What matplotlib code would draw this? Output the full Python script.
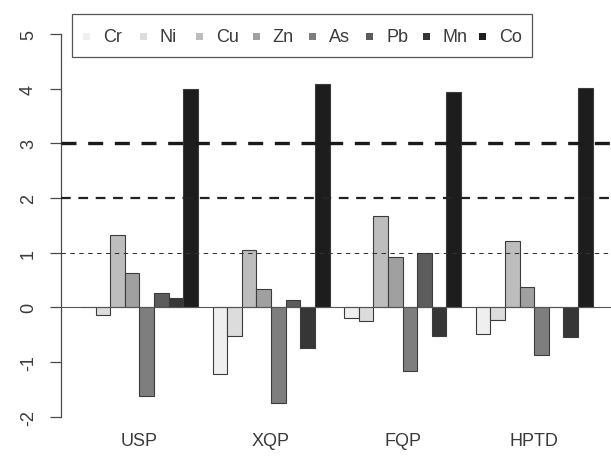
import matplotlib
matplotlib.use("Agg")
import matplotlib.pyplot as plt
import numpy as np
from matplotlib.patches import Rectangle

plt.rcParams['font.family'] = ['Liberation Sans', 'DejaVu Sans']
plt.rcParams['lines.scale_dashes'] = False

sites = ["USP", "XQP", "FQP", "HPTD"]
elements = ["Cr", "Ni", "Cu", "Zn", "As", "Pb", "Mn", "Co"]
values = {
    "USP":  [0.00, -0.14, 1.33, 0.63, -1.62, 0.27, 0.17, 3.99],
    "XQP":  [-1.22, -0.52, 1.04, 0.33, -1.75, 0.13, -0.74, 4.08],
    "FQP":  [-0.20, -0.25, 1.67, 0.93, -1.17, 1.00, -0.52, 3.94],
    "HPTD": [-0.48, -0.23, 1.22, 0.38, -0.87, 0.00, -0.54, 4.02],
}
colors = ["#efefef", "#dcdcdc", "#bdbdbd", "#a0a0a0", "#7e7e7e", "#5c5c5c", "#363636", "#1d1d1d"]
yticks = [-2, -1, 0, 1, 2, 3, 4, 5]

W, H = 611, 460
fig = plt.figure(figsize=(W / 100, H / 100), dpi=100)
ax = fig.add_axes([60.5 / W, 27 / H, (W - 60.5) / W, (433 - 19.7) / H])

txt_color = "#3a3a3a"
ax_color = "#4a4a4a"

n = len(elements)
for g, site in enumerate(sites):
    for i, v in enumerate(values[site]):
        left = g * (n + 1) + 1 + i
        ax.bar(left, v, width=1.0, align="edge", color=colors[i],
               edgecolor="#3c3c3c", linewidth=0.8, zorder=2)

ax.set_xlim(-0.4, -0.4 + (W - 60.5) / 14.62)
ax.set_ylim(-2.28, 5.28)

# reference lines
ax.axhline(0, color="#555555", lw=0.8, zorder=3)
ax.axhline(1, color="#333333", lw=0.75, linestyle=(0, (3.2, 3.2)), zorder=3)
ax.axhline(2, color="#222222", lw=1.6, linestyle=(0, (7.0, 5.5)), zorder=3)
ax.axhline(3, color="#1a1a1a", lw=2.4, linestyle=(0, (10.8, 8.4)), zorder=3)

for s in ["top", "right", "bottom"]:
    ax.spines[s].set_visible(False)
ax.spines["left"].set_bounds(-2, 5)
ax.spines["left"].set_color(ax_color)
ax.spines["left"].set_linewidth(0.9)

ax.set_yticks(yticks)
ax.set_yticklabels([str(t) for t in yticks], rotation=90, va="center")
ax.tick_params(axis="y", length=8, width=0.9, color=ax_color, pad=9,
               labelsize=13, labelcolor=txt_color)

centers = [g * (n + 1) + 1 + n / 2 for g in range(len(sites))]
ax.set_xticks(centers)
ax.set_xticklabels(sites)
ax.tick_params(axis="x", length=0, pad=0, labelsize=13, labelcolor=txt_color)

# legend (horizontal, R style)
bx0, by0, bx1, by1 = 72, 14.5, 532, 58
fig.patches.append(Rectangle((bx0 / W, 1 - by1 / H), (bx1 - bx0) / W, (by1 - by0) / H,
                             transform=fig.transFigure, fill=False,
                             edgecolor="#555555", linewidth=0.9))
step = 56.6
sq = 7
cy = 37
for i, name in enumerate(elements):
    sx = 86.5 + i * step
    fig.patches.append(Rectangle(((sx - sq / 2) / W, 1 - (cy + sq / 2) / H), sq / W, sq / H,
                                 transform=fig.transFigure, facecolor=colors[i],
                                 edgecolor="none"))
    fig.text((sx + 16.5) / W, 1 - cy / H, name, ha="left", va="center",
             fontsize=13, color=txt_color)

fig.savefig("out.png", dpi=100)
